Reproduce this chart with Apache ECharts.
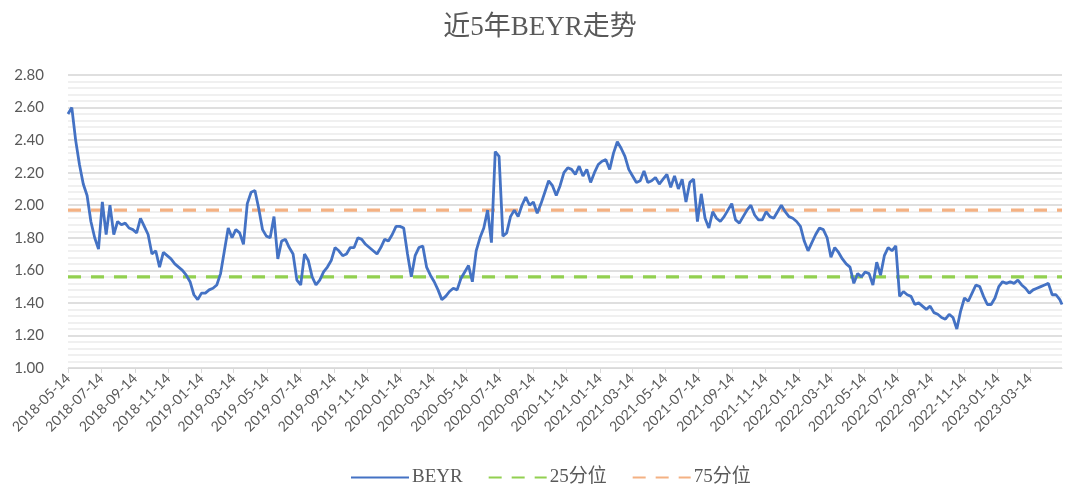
<!DOCTYPE html>
<html>
<head>
<meta charset="utf-8">
<title>近5年BEYR走势</title>
<script src="https://cdn.jsdelivr.net/npm/echarts@6/dist/echarts.min.js"></script>
<style>
  html, body { margin: 0; padding: 0; background: #fff; }
  #chart { width: 1080px; height: 490px; }
</style>
</head>
<body>
<div id="chart"></div>
<script>
// 日期轴：2018-05-14 到 2023-05-12 的每一天
const startDate = '2018-05-14'
const endDate = '2023-05-12'

// BEYR 每周读数（从 2018-05-14 起每 7 天一个，最后一个是 2023-05-12）
const beyr = [
  2.56, 2.60, 2.40, 2.25, 2.13, 2.06, 1.90, 1.80, 1.73, 2.02,
  1.82, 2.00, 1.82, 1.90, 1.88, 1.89, 1.86, 1.85, 1.83, 1.92,
  1.87, 1.82, 1.70, 1.72, 1.62, 1.71, 1.69, 1.67, 1.64, 1.62,
  1.60, 1.57, 1.53, 1.45, 1.42, 1.46, 1.46, 1.48, 1.49, 1.51,
  1.58, 1.72, 1.86, 1.80, 1.85, 1.83, 1.76, 2.01, 2.08, 2.09,
  1.98, 1.85, 1.81, 1.80, 1.93, 1.67, 1.78, 1.79, 1.74, 1.70,
  1.54, 1.51, 1.70, 1.66, 1.56, 1.51, 1.54, 1.59, 1.62, 1.66,
  1.74, 1.72, 1.69, 1.70, 1.74, 1.74, 1.80, 1.79, 1.76, 1.74,
  1.72, 1.70, 1.74, 1.79, 1.78, 1.82, 1.87, 1.87, 1.86, 1.70,
  1.56, 1.69, 1.74, 1.75, 1.62, 1.57, 1.53, 1.48, 1.42, 1.44,
  1.47, 1.49, 1.48, 1.55, 1.59, 1.63, 1.53, 1.72, 1.80, 1.86,
  1.97, 1.77, 2.33, 2.30, 1.81, 1.83, 1.93, 1.97, 1.93, 2.00,
  2.05, 2.00, 2.02, 1.95, 2.01, 2.08, 2.15, 2.12, 2.06, 2.12,
  2.20, 2.23, 2.22, 2.19, 2.24, 2.18, 2.22, 2.14, 2.20, 2.25,
  2.27, 2.28, 2.22, 2.32, 2.39, 2.35, 2.30, 2.22, 2.18, 2.14,
  2.15, 2.21, 2.14, 2.15, 2.17, 2.13, 2.16, 2.19, 2.11, 2.18,
  2.10, 2.16, 2.02, 2.14, 2.16, 1.90, 2.07, 1.92, 1.86, 1.96,
  1.92, 1.90, 1.93, 1.97, 2.01, 1.91, 1.89, 1.93, 1.97, 2.00,
  1.94, 1.91, 1.91, 1.96, 1.93, 1.92, 1.96, 2.00, 1.96, 1.93,
  1.92, 1.90, 1.87, 1.78, 1.72, 1.77, 1.82, 1.86, 1.85, 1.80,
  1.68, 1.74, 1.71, 1.67, 1.64, 1.62, 1.52, 1.58, 1.56, 1.59,
  1.58, 1.51, 1.65, 1.57, 1.69, 1.74, 1.72, 1.75, 1.44, 1.47,
  1.45, 1.44, 1.39, 1.40, 1.38, 1.36, 1.38, 1.34, 1.33, 1.31,
  1.30, 1.33, 1.31, 1.24, 1.35, 1.43, 1.41, 1.46, 1.51, 1.50,
  1.44, 1.39, 1.39, 1.43, 1.50, 1.53, 1.52, 1.53, 1.52, 1.54,
  1.51, 1.49, 1.46, 1.48, 1.49, 1.50, 1.51, 1.52, 1.45, 1.45,
  1.42, 1.39
]

const p25 = 1.56
const p75 = 1.97

const yMin = 1.0
const yMax = 2.8
const yStep = 0.2

const seriesNames = ['BEYR', '25分位', '75分位']
const colors = ['#4472C4', '#92D050', '#F4B183']

// 每天一个类目
let dates = []
let d = new Date(startDate + 'T00:00:00Z')
const end = new Date(endDate + 'T00:00:00Z')
while (d <= end) {
  dates.push(d.toISOString().slice(0, 10))
  d = new Date(d.getTime() + 86400000)
}
const last = dates.length - 1

// 单月 14 号出标签和刻度
const showTick = (idx, val) => /-(01|03|05|07|09|11)-14$/.test(val)

let myChart = echarts.init(document.getElementById('chart'))
let option = {
  backgroundColor: '#fff',
  animation: false,
  title: {
    text: '近5年BEYR走势',
    left: 'center',
    top: 9,
    textStyle: {
      fontFamily: '"Liberation Serif", "Noto Sans CJK SC", serif',
      fontSize: 27,
      fontWeight: 'normal',
      color: '#595959'
    }
  },
  legend: {
    data: seriesNames,
    top: 463,
    left: 345,
    itemWidth: 58,
    itemHeight: 14,
    itemGap: 25,
    itemStyle: { opacity: 0 },
    textStyle: {
      fontFamily: '"Liberation Serif", "Noto Sans CJK SC", serif',
      fontSize: 19,
      color: '#595959',
      padding: [0, 0, 0, -2]
    }
  },
  grid: {
    left: 68,
    right: 18,
    top: 75,
    bottom: 122
  },
  xAxis: {
    type: 'category',
    data: dates,
    boundaryGap: false,
    axisLine: { lineStyle: { color: '#d9d9d9', width: 1 } },
    axisTick: {
      interval: showTick,
      length: 5,
      lineStyle: { color: '#d9d9d9' }
    },
    axisLabel: {
      interval: showTick,
      rotate: 45,
      margin: 8,
      color: '#595959',
      fontFamily: 'Lato, "Noto Sans", sans-serif',
      fontSize: 14
    },
    splitLine: { show: false }
  },
  yAxis: {
    type: 'value',
    min: yMin,
    max: yMax,
    interval: yStep,
    axisLine: { show: false },
    axisTick: { show: false },
    axisLabel: {
      margin: 24,
      color: '#595959',
      fontFamily: 'Lato, "Noto Sans", sans-serif',
      fontSize: 15,
      formatter: v => v.toFixed(2)
    },
    splitLine: { lineStyle: { color: '#d4d4d4', width: 1.5 } },
    minorTick: { show: false, splitNumber: 5 },
    minorSplitLine: { show: true, lineStyle: { color: '#ececec', width: 1.5 } }
  },
  series: [
    {
      name: 'BEYR',
      type: 'line',
      data: beyr.map((v, i) => [Math.min(i * 7, last), v]),
      symbol: 'none',
      lineStyle: { color: colors[0], width: 2.8 },
      itemStyle: { color: colors[0] },
      z: 3
    },
    {
      name: '25分位',
      type: 'line',
      data: [[0, p25], [last, p25]],
      symbol: 'none',
      lineStyle: { color: colors[1], width: 3.2, type: [13, 10] },
      itemStyle: { color: colors[1] },
      z: 2
    },
    {
      name: '75分位',
      type: 'line',
      data: [[0, p75], [last, p75]],
      symbol: 'none',
      lineStyle: { color: colors[2], width: 3.2, type: [13, 10] },
      itemStyle: { color: colors[2] },
      z: 2
    }
  ]
}
myChart.setOption(option)
</script>
</body>
</html>
